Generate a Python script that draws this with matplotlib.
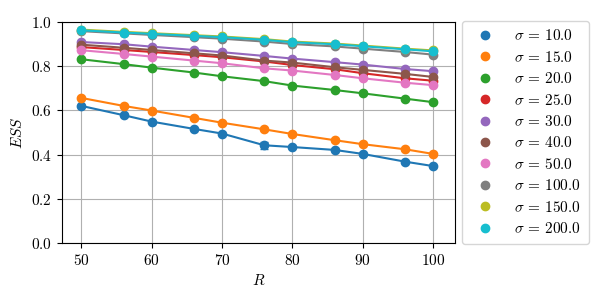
import matplotlib
matplotlib.use("Agg")
import matplotlib.pyplot as plt
from matplotlib.lines import Line2D

plt.rcParams['font.family'] = 'serif'
plt.rcParams['font.serif'] = ['cmr10']
plt.rcParams['mathtext.fontset'] = 'cm'
plt.rcParams['axes.formatter.use_mathtext'] = True
plt.rcParams['font.size'] = 11

R = [50, 56, 60, 66, 70, 76, 80, 86, 90, 96, 100]
sigmas = [10.0, 15.0, 20.0, 25.0, 30.0, 40.0, 50.0, 100.0, 150.0, 200.0]

ess_10 = [0.620, 0.578, 0.549, 0.516, 0.495, 0.442, 0.434, 0.421, 0.403, 0.368, 0.348]
ess_15 = [0.656, 0.620, 0.599, 0.566, 0.544, 0.514, 0.493, 0.465, 0.447, 0.424, 0.403]
ess_20 = [0.831, 0.809, 0.793, 0.771, 0.754, 0.732, 0.712, 0.692, 0.677, 0.653, 0.637]
ess_25 = [0.886, 0.873, 0.864, 0.850, 0.840, 0.821, 0.805, 0.786, 0.768, 0.745, 0.734]
ess_30 = [0.909, 0.899, 0.888, 0.873, 0.863, 0.846, 0.834, 0.818, 0.807, 0.787, 0.777]
ess_40 = [0.897, 0.883, 0.873, 0.858, 0.848, 0.825, 0.816, 0.795, 0.783, 0.765, 0.751]
ess_50 = [0.872, 0.855, 0.843, 0.825, 0.813, 0.790, 0.780, 0.760, 0.745, 0.725, 0.714]
ess_100 = [0.958, 0.948, 0.941, 0.931, 0.924, 0.911, 0.900, 0.889, 0.879, 0.864, 0.852]
ess_150 = [0.965, 0.955, 0.949, 0.940, 0.934, 0.922, 0.911, 0.902, 0.893, 0.879, 0.871]
ess_200 = [0.962, 0.952, 0.946, 0.937, 0.931, 0.919, 0.908, 0.899, 0.890, 0.876, 0.867]

err_10 = [0.004, 0.004, 0.004, 0.004, 0.004, 0.016, 0.004, 0.004, 0.004, 0.004, 0.004]
err_default = [0.003] * len(R)

series = [ess_10, ess_15, ess_20, ess_25, ess_30, ess_40, ess_50, ess_100, ess_150, ess_200]
errors = [err_10] + [err_default] * 9
colors = ['#1f77b4', '#ff7f0e', '#2ca02c', '#d62728', '#9467bd',
          '#8c564b', '#e377c2', '#7f7f7f', '#bcbd22', '#17becf']

fig = plt.figure(figsize=(6, 3), dpi=100)
ax = fig.add_axes([0.103, 0.19, 0.655, 0.737])

handles = []
for s, y, e, c in zip(sigmas, series, errors, colors):
    ax.errorbar(R, y, yerr=e, fmt='o-', color=c, markersize=6, linewidth=1.5,
                capsize=3, elinewidth=1.5)
    handles.append(Line2D([], [], marker='o', linestyle='none', color=c,
                          markersize=6, label=r'$\sigma\,=\,%.1f$' % s))

ax.set_ylim(0, 1.0)
ax.set_xlim(47.2, 103.1)
ax.set_yticks([0.0, 0.2, 0.4, 0.6, 0.8, 1.0])
ax.set_xticks([50, 60, 70, 80, 90, 100])
ax.grid(True, color='#b0b0b0', linewidth=0.8)
ax.set_axisbelow(True)
ax.set_xlabel(r'$R$')
ax.set_ylabel(r'$ESS$')

ax.legend(handles=handles, loc='upper left', bbox_to_anchor=(1.0, 1.04),
          fontsize=11, handletextpad=0.9, labelspacing=0.42, borderpad=0.5)

fig.savefig('out.png', dpi=100)
